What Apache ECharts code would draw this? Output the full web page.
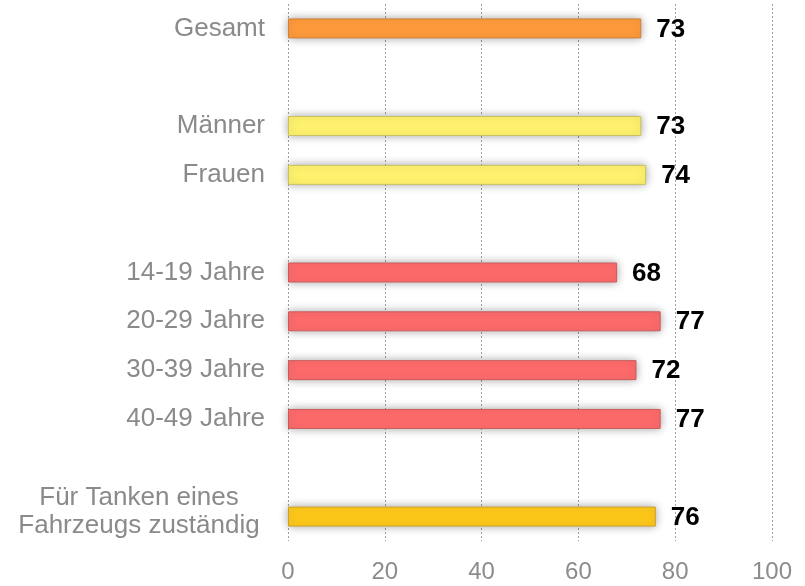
<!DOCTYPE html>
<html>
<head>
<meta charset="utf-8">
<script src="https://cdn.jsdelivr.net/npm/echarts@6/dist/echarts.min.js"></script>
<style>
  html, body { margin: 0; padding: 0; background: #fff; }
  #chart { width: 805px; height: 586px; }
</style>
</head>
<body>
<div id="chart"></div>
<script>
// Kategorien (Leerzeilen = Abstände zwischen Gruppen)
var categories = ['Gesamt', ' ', 'Männer', 'Frauen', '  ', '14-19 Jahre', '20-29 Jahre', '30-39 Jahre', '40-49 Jahre', '   ', 'Für Tanken eines\nFahrzeugs zuständig'];
var values = [73, '-', 73, 74, '-', 68, 77, 72, 77, '-', 76];
var barColors = ['#FF9B3B', null, '#FFF36E', '#FFF36E', null, '#FF6B6B', '#FF6B6B', '#FF6B6B', '#FF6B6B', null, '#FFC91A'];
var borderColors = ['#C8823F', null, '#C9C060', '#C9C060', null, '#C85C5C', '#C85C5C', '#C85C5C', '#C85C5C', null, '#C8A030'];
var xTicks = [0, 20, 40, 60, 80, 100];

var chart = echarts.init(document.getElementById('chart'));

var seriesData = values.map(function (v, i) {
    if (v === '-') return '-';
    return {
        value: v,
        itemStyle: { color: barColors[i], borderColor: borderColors[i] }
    };
});

var labelFont = 'Liberation Sans, Arial';

var option = {
    animation: false,
    grid: { left: 288, right: 33, top: 4, bottom: 45 },
    xAxis: {
        type: 'value',
        min: xTicks[0],
        max: xTicks[xTicks.length - 1],
        interval: 20,
        axisLine: { show: false },
        axisTick: { show: false },
        axisLabel: { color: '#8C8C8C', fontSize: 24, fontFamily: labelFont, margin: 19 },
        splitLine: { show: true, lineStyle: { color: '#A0A0A0', type: [2, 2], width: 1 } }
    },
    yAxis: {
        type: 'category',
        inverse: true,
        data: categories,
        axisLine: { show: false },
        axisTick: { show: false },
        axisLabel: {
            color: '#8A8A8A', fontSize: 26, fontFamily: labelFont,
            margin: 23, align: 'right',
            formatter: function (val) {
                if (val.indexOf('\n') < 0) return val;
                var parts = val.split('\n');
                // zweizeilig, zentriert, leicht nach oben versetzt
                return '{c|' + parts[0] + '}\n{c|' + parts[1] + '}\n{e| }';
            },
            rich: {
                c: { width: 252, height: 28, align: 'center', lineHeight: 28, fontSize: 26, color: '#8A8A8A', fontFamily: labelFont },
                e: { height: 10, lineHeight: 10, fontSize: 2 }
            }
        }
    },
    series: [{
        type: 'bar',
        data: seriesData,
        barWidth: 20,
        itemStyle: {
            borderWidth: 1,
            shadowBlur: 10,
            shadowColor: 'rgba(0,0,0,0.35)',
            shadowOffsetY: 0
        },
        label: {
            show: true,
            position: 'right',
            distance: 15,
            offset: [0, 1],
            color: '#000',
            fontSize: 26,
            fontWeight: 'bold',
            fontFamily: labelFont
        }
    }]
};

chart.setOption(option);
</script>
</body>
</html>
